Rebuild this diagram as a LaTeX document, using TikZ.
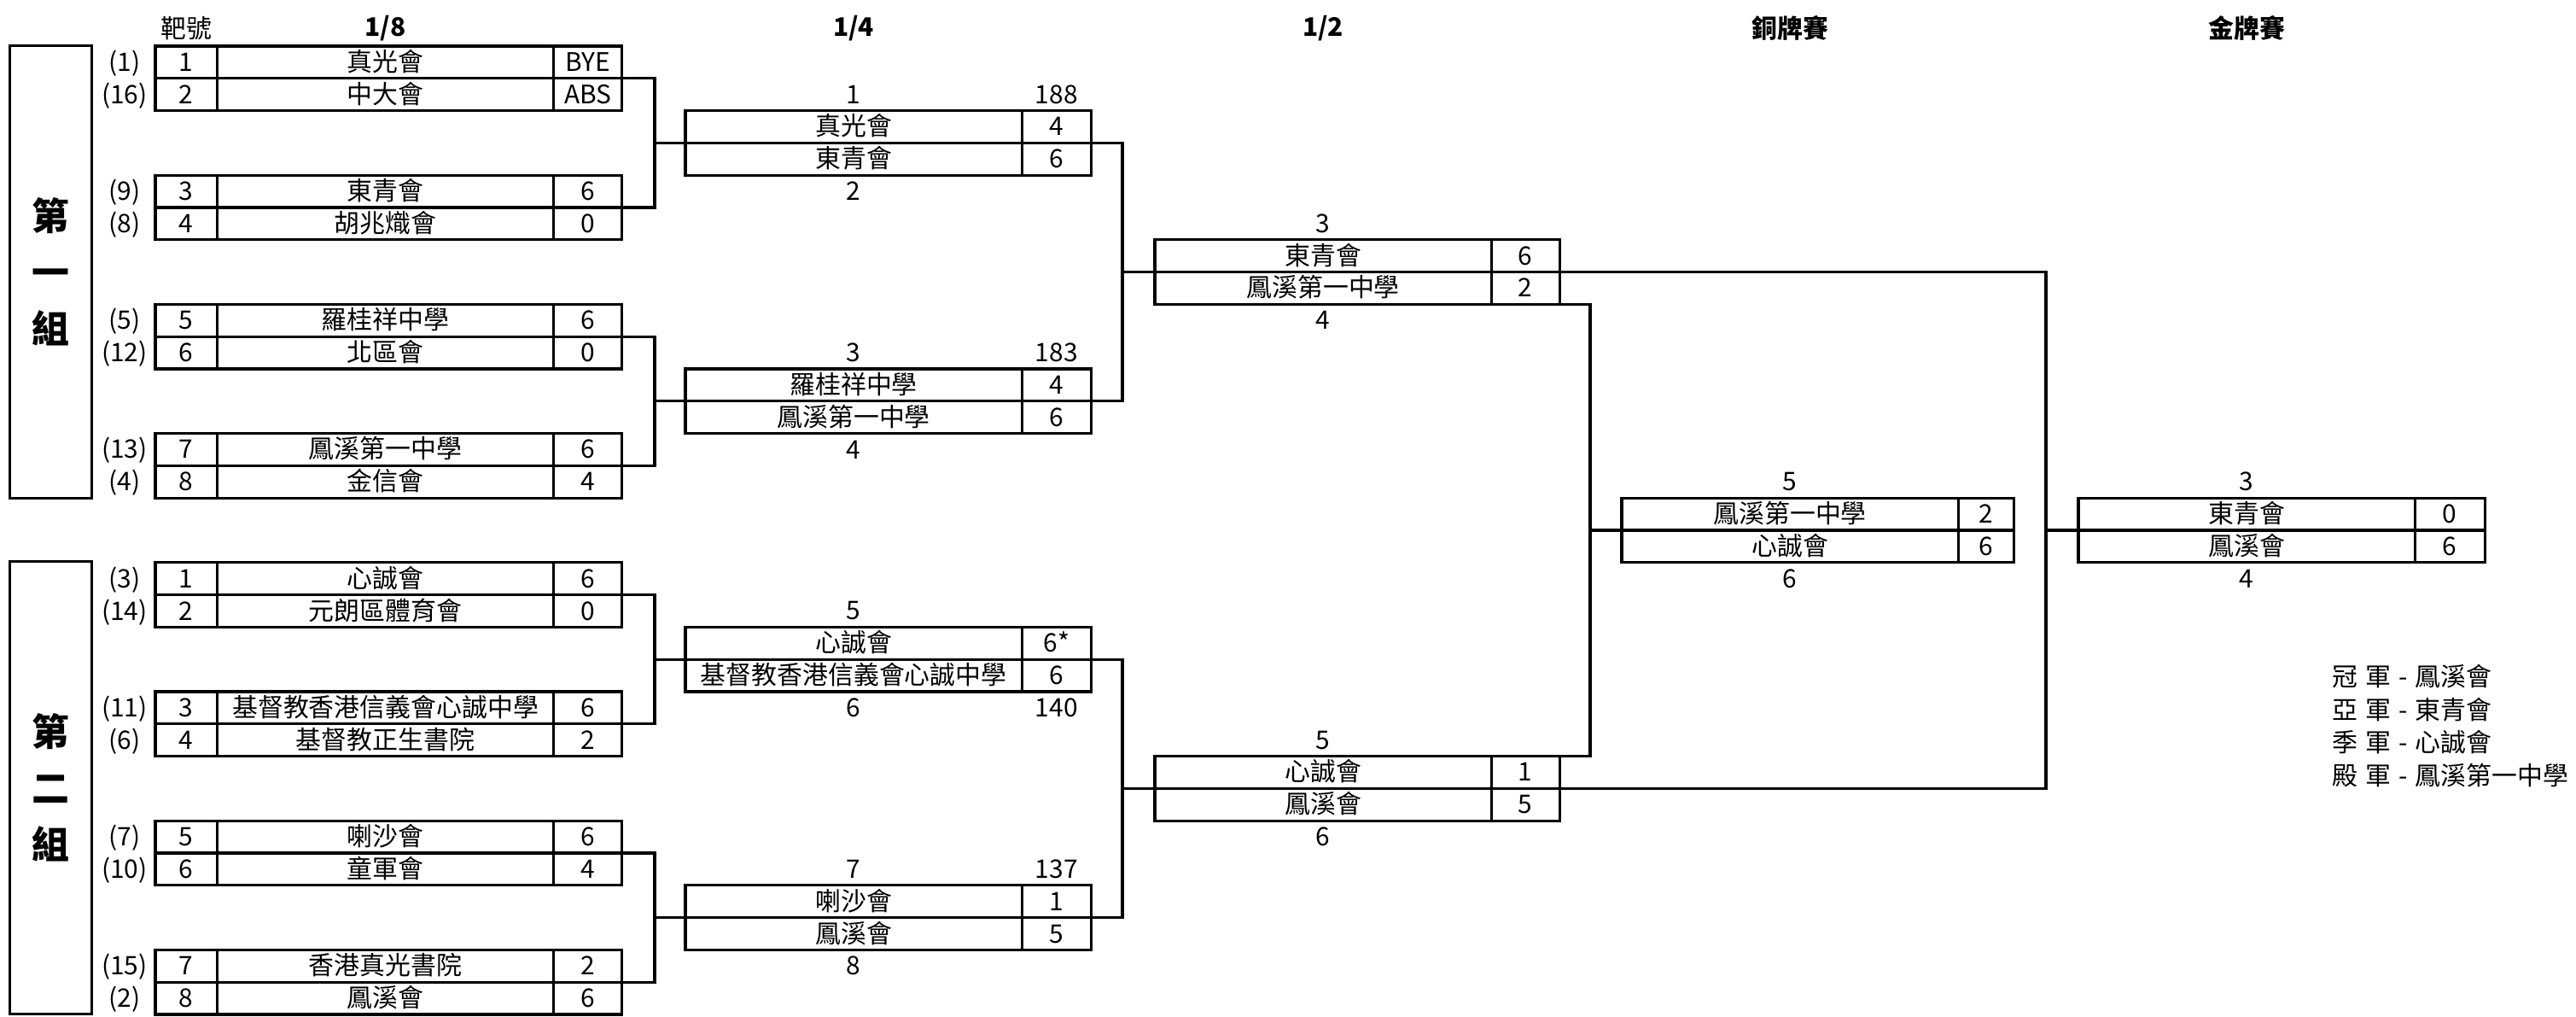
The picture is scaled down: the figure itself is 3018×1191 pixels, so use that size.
\documentclass[tikz,border=0pt]{standalone}
\usepackage{fontspec}
\setmainfont{Noto Sans CJK TC}
\usetikzlibrary{positioning}

\tikzset{
  cell/.style={draw, line width=0.9pt, inner sep=0pt, outer sep=0pt, minimum height=0.378cm, text height=7.2pt, text depth=1.25pt},
  seedw/.style={cell, minimum width=0.725cm},
  namew/.style={cell, minimum width=3.94cm},
  scorew/.style={cell, minimum width=#1},
  tag/.style={inner sep=0pt, outer sep=0pt, minimum width=0.7cm, minimum height=0.378cm, text height=7.2pt, text depth=1.25pt},
  grp/.style={draw, line width=0.9pt, inner sep=0pt, minimum width=0.96cm, minimum height=5.29cm, align=center, font=\fontsize{12.5}{18.8}\selectfont\bfseries},
  head/.style={font=\fontsize{8.5}{10}\selectfont\bfseries},
  wire/.style={line width=0.9pt},
}
\newcommand{\fork}[4]{\draw[wire] (#1) -- ++(#4,0) coordinate (v) |- (#2) (v) |- (#3);}
\newcommand{\gap}{\hspace{0.3em}}

\begin{document}
\begin{tikzpicture}[x=0.01cm, y=-0.01cm, font=\fontsize{8.5}{10}\selectfont]
\useasboundingbox (0,0) rectangle (3018,1191);
% 1/8
\foreach \r/\ka/\sa/\ta/\pa/\sb/\tb/\pb [count=\i] in {
    0/1/1/真光會/BYE/16/中大會/ABS, 4/3/9/東青會/6/8/胡兆熾會/0,
    8/5/5/羅桂祥中學/6/12/北區會/0, 12/7/13/鳳溪第一中學/6/4/金信會/4,
    16/1/3/心誠會/6/14/元朗區體育會/0, 20/3/11/基督教香港信義會心誠中學/6/6/基督教正生書院/2,
    24/5/7/喇沙會/6/10/童軍會/4, 28/7/15/香港真光書院/2/2/鳳溪會/6}{
  \pgfmathtruncatemacro\kb{\ka+1}
  \node[namew, anchor=north west] (e\i n1) at (254.5,{54+37.8*\r}) {\ta};
  \node[namew, below=0pt of e\i n1] (e\i n2) {\tb};
  \node[seedw, left=0pt of e\i n1] (e\i k1) {\ka};
  \node[seedw, left=0pt of e\i n2] (e\i k2) {\kb};
  \node[scorew=0.8cm, right=0pt of e\i n1] (e\i p1) {\pa};
  \node[scorew=0.8cm, right=0pt of e\i n2] (e\i p2) {\pb};
  \node[tag, left=0.01cm of e\i k1] (e\i t1) {(\sa)};
  \node[tag, left=0.01cm of e\i k2] (e\i t2) {(\sb)};
}
% 1/4, 1/2, medal matches
\foreach \m/\x/\sw/\r/\ta/\pa/\tb/\pb/\u/\w in {
    q1/803/0.81cm/2/真光會/4/東青會/6/1/2,
    q2/803/0.81cm/10/羅桂祥中學/4/鳳溪第一中學/6/3/4,
    q3/803/0.81cm/18/心誠會/6*/基督教香港信義會心誠中學/6/5/6,
    q4/803/0.81cm/26/喇沙會/1/鳳溪會/5/7/8,
    s1/1353/0.8cm/6/東青會/6/鳳溪第一中學/2/3/4,
    s2/1353/0.8cm/22/心誠會/1/鳳溪會/5/5/6,
    bz/1900/0.65cm/14/鳳溪第一中學/2/心誠會/6/5/6,
    gd/2435/0.82cm/14/東青會/0/鳳溪會/6/3/4}{
  \node[namew, anchor=north west] (\m n1) at (\x,{54+37.8*\r}) {\ta};
  \node[namew, below=0pt of \m n1] (\m n2) {\tb};
  \node[scorew=\sw, right=0pt of \m n1] (\m p1) {\pa};
  \node[scorew=\sw, right=0pt of \m n2] (\m p2) {\pb};
  \node[tag, above=0pt of \m n1] (\m a) {\u};
  \node[tag, below=0pt of \m n2] (\m c) {\w};
}
\node[tag, above=0pt of q1p1] (q1b) {188};
\node[tag, above=0pt of q2p1] (q2b) {183};
\node[tag, below=0pt of q3p2] (q3d) {140};
\node[tag, above=0pt of q4p1] (q4b) {137};

\fork{q1n2.north west}{e1p2.north east}{e2p2.north east}{-36}
\fork{q2n2.north west}{e3p2.north east}{e4p2.north east}{-36}
\fork{q3n2.north west}{e5p2.north east}{e6p2.north east}{-36}
\fork{q4n2.north west}{e7p2.north east}{e8p2.north east}{-36}
\fork{s1n2.north west}{q1p2.north east}{q2p2.north east}{-38}
\fork{s2n2.north west}{q3p2.north east}{q4p2.north east}{-38}
\fork{bzn2.north west}{s1p2.south east}{s2p1.north east}{-37}
\fork{gdn2.north west}{s1p2.north east}{s2p2.north east}{-38}

\node[grp] (g1) at (59.6,318.5) {第\\一\\組};
\node[grp] (g2) at (59.6,922.5) {第\\二\\組};

\coordinate (top) at (0,33);
\node (hk) at (e1k1 |- top) {靶號};
\node[head] (h8) at (e1n1 |- top) {1/8};
\node[head] (h4) at (q1n1 |- top) {1/4};
\node[head] (h2) at (s1n1 |- top) {1/2};
\node[head] (hb) at (bzn1 |- top) {銅牌賽};
\node[head] (hg) at (gdn1 |- top) {金牌賽};

\node[anchor=west, align=left, inner sep=0pt, font=\fontsize{8.5}{11}\selectfont] (podium) at (2732,850)
  {冠\gap 軍\gap -\gap 鳳溪會\\亞\gap 軍\gap -\gap 東青會\\季\gap 軍\gap -\gap 心誠會\\殿\gap 軍\gap -\gap 鳳溪第一中學};
\end{tikzpicture}
\end{document}
